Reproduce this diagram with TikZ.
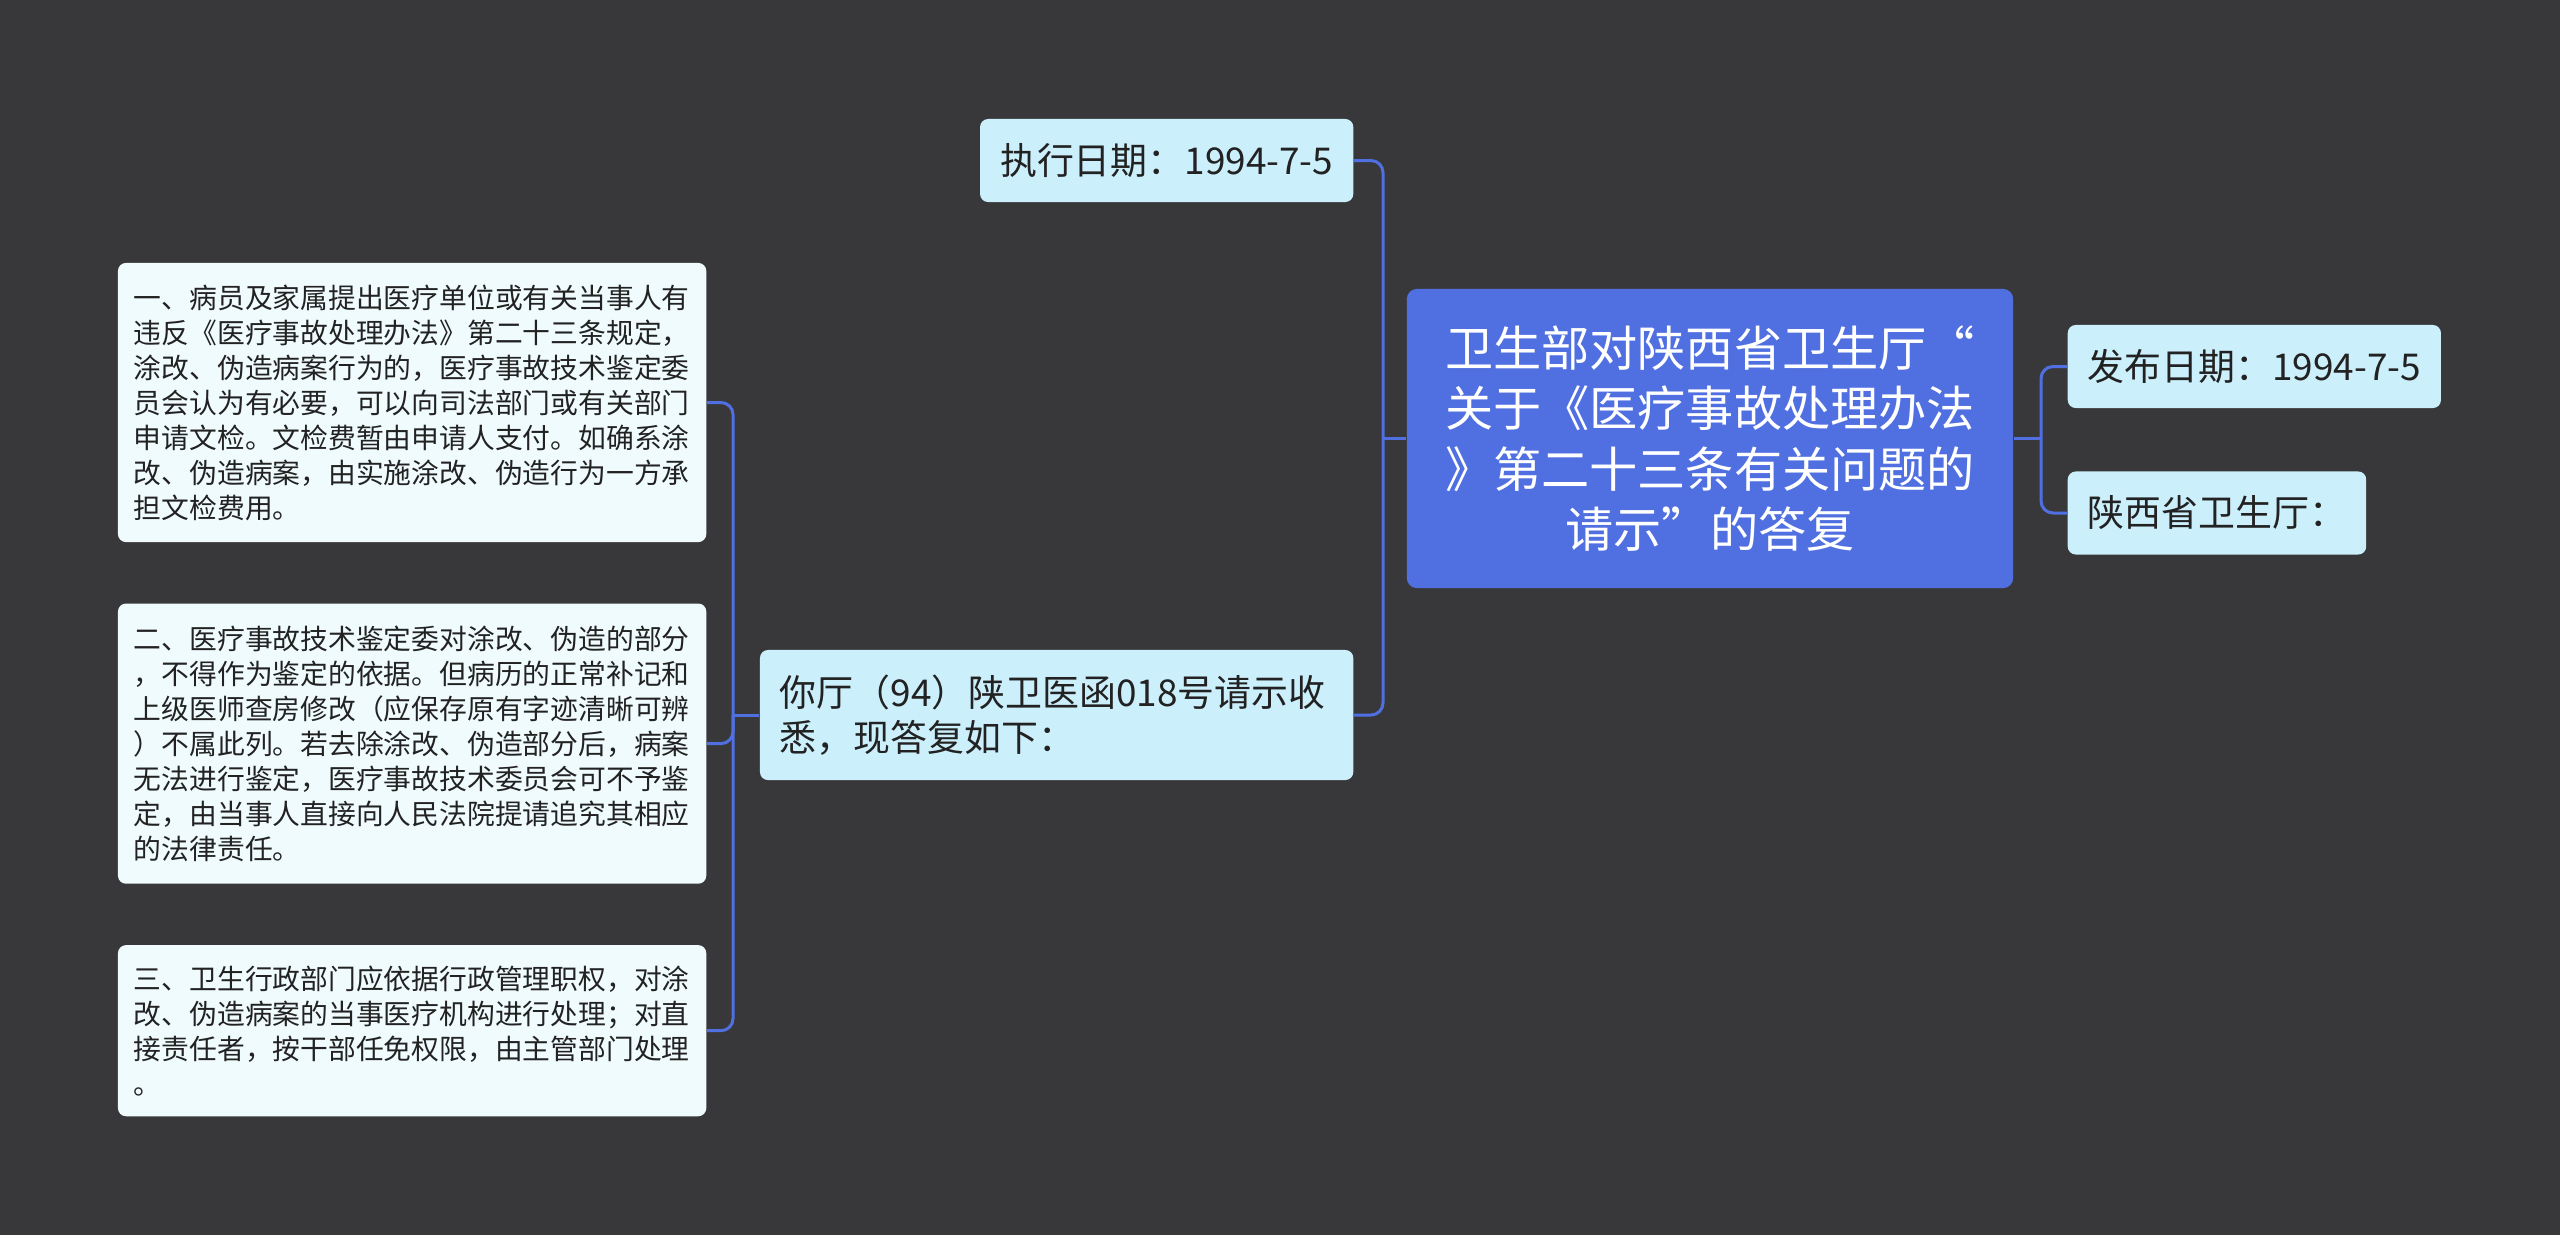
\documentclass[tikz,border=0pt]{standalone}
\usepackage{fontspec}
\newfontfamily\cjk{Noto Sans CJK SC}
\usepackage{xcolor}
\usetikzlibrary{positioning}
\definecolor{bgdark}{RGB}{56,55,57}
\definecolor{rootblue}{RGB}{80,112,226}
\definecolor{lightcyan}{RGB}{204,239,252}
\definecolor{paleblue}{RGB}{240,251,254}
\definecolor{inkdark}{RGB}{34,34,34}

\begin{document}
\begin{tikzpicture}[x=0.01cm, y=-0.01cm, font=\cjk,
  rootbox/.style={fill=rootblue, rounded corners=0.1cm, text=white, align=center, inner sep=0pt,
    minimum width=6.06cm, minimum height=2.99cm, font=\cjk\fontsize{13.7}{17.1}\selectfont},
  subbox/.style={fill=lightcyan, rounded corners=0.08cm, text=inkdark, align=left, inner xsep=0.2cm,
    minimum height=0.83cm, font=\cjk\fontsize{10.5}{12.9}\selectfont},
  itembox/.style={fill=paleblue, rounded corners=0.08cm, text=inkdark, align=left, inner xsep=0.16cm,
    text width=5.56cm, font=\cjk\fontsize{7.9}{9.96}\selectfont},
  conn/.style={draw=rootblue, line width=0.03cm, rounded corners=0.12cm}]
  \useasboundingbox (0,0) rectangle (2560,1235);
  \fill[bgdark] (0,0) rectangle (2560,1235);

  \node[rootbox] (root) at (1710,438.5)
    {卫生部对陕西省卫生厅“\\关于《医疗事故处理办法\\》第二十三条有关问题的\\请示”的答复};

  \node[subbox, anchor=west] (pub) at (2067,366.5) {发布日期：1994-7-5};
  \node[subbox, below=0.62cm of pub.south west, anchor=north west] (prov) {陕西省卫生厅：};

  \node[subbox, anchor=east] (exe) at (1354,160.5) {执行日期：1994-7-5};
  \node[subbox, anchor=east, text width=5.53cm, minimum height=1.3cm] (reply) at (1354,715)
    {你厅（94）陕卫医函018号请示收\\悉，现答复如下：};

  \node[itembox, anchor=east, minimum height=2.79cm] (item1) at (707,402.5)
    {一、病员及家属提出医疗单位或有关当事人有\\
     违反《医疗事故处理办法》第二十三条规定，\\
     涂改、伪造病案行为的，医疗事故技术鉴定委\\
     员会认为有必要，可以向司法部门或有关部门\\
     申请文检。文检费暂由申请人支付。如确系涂\\
     改、伪造病案，由实施涂改、伪造行为一方承\\
     担文检费用。};
  \node[itembox, below=0.6cm of item1, minimum height=2.8cm] (item2)
    {二、医疗事故技术鉴定委对涂改、伪造的部分\\
     ，不得作为鉴定的依据。但病历的正常补记和\\
     上级医师查房修改（应保存原有字迹清晰可辨\\
     ）不属此列。若去除涂改、伪造部分后，病案\\
     无法进行鉴定，医疗事故技术委员会可不予鉴\\
     定，由当事人直接向人民法院提请追究其相应\\
     的法律责任。};
  \node[itembox, below=0.6cm of item2, minimum height=1.71cm] (item3)
    {三、卫生行政部门应依据行政管理职权，对涂\\
     改、伪造病案的当事医疗机构进行处理；对直\\
     接责任者，按干部任免权限，由主管部门处理\\
     。};

  \coordinate (lj) at (1383,438.5);
  \coordinate (rj) at (2041,438.5);
  \coordinate (mj) at (733,715);

  \draw[conn] (root.west) -- (lj);
  \draw[conn] (exe.east) -| (lj) |- (reply.east);
  \draw[conn] (root.east) -- (rj);
  \draw[conn] (pub.west) -| (rj) |- (prov.west);
  \draw[conn] (reply.west) -- (mj);
  \draw[conn] (item1.east) -| (mj) |- (item3.east);
  \draw[conn] (item2.east) -| (mj);
\end{tikzpicture}
\end{document}
